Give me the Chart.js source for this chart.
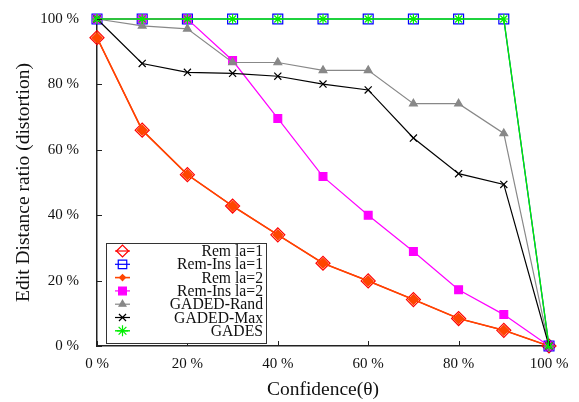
<!DOCTYPE html>
<html>
<head>
<meta charset="utf-8">
<script src="https://cdn.jsdelivr.net/npm/chart.js@4/dist/chart.umd.min.js"></script>
<style>
  html, body { margin: 0; padding: 0; background: #fff; }
  #wrap { width: 579px; height: 402px; }
</style>
</head>
<body>
<div id="wrap"><canvas id="c" width="579" height="402"></canvas></div>
<script>
// confidence levels (x, in %)
const confidence = [0, 10, 20, 30, 40, 50, 60, 70, 80, 90, 100];
const xTicks = [0, 20, 40, 60, 80, 100];
const yTicks = [0, 20, 40, 60, 80, 100];

// distortion values (%)
const remLa1 = [94.3, 66, 52.4, 42.8, 34, 25.3, 19.9, 14.2, 8.4, 4.8, 0];
const remInsLa1 = [100, 100, 100, 100, 100, 100, 100, 100, 100, 100, 0];
const remLa2 = [94.3, 66, 52.4, 42.8, 34, 25.3, 19.9, 14.2, 8.4, 4.8, 0];
const remInsLa2 = [100, 100, 100, 87.3, 69.6, 51.8, 40, 28.9, 17.2, 9.6, 0];
const gadedRand = [100, 97.9, 97, 86.7, 86.7, 84.3, 84.3, 74.1, 74.1, 65, 0];
const gadedMax = [100, 86.4, 83.7, 83.4, 82.5, 80.1, 78.3, 63.6, 52.7, 49.4, 0];
const gades = [100, 100, 100, 100, 100, 100, 100, 100, 100, 100, 0];

const pts = arr => arr.map((v, i) => ({ x: confidence[i], y: v }));

function series(label, data, color, style, opts) {
    return Object.assign({
        label: label,
        data: pts(data),
        borderColor: color,
        backgroundColor: color,
        pointBorderColor: color,
        pointBackgroundColor: color,
        pointStyle: style,
        pointRadius: 6,
        pointBorderWidth: 1.2,
        borderWidth: 1.2,
        tension: 0
    }, opts || {});
}

const datasets = [
    series('Rem la=1', remLa1, '#ff0000', 'rectRot', { pointBackgroundColor: 'rgba(255,255,255,0)', pointRadius: 7, order: 7, legendRadius: 6 }),
    series('Rem-Ins la=1', remInsLa1, '#0000ff', 'rect', { pointBackgroundColor: 'rgba(255,255,255,0)', pointRadius: 7, order: 6, legendRadius: 6 }),
    series('Rem la=2', remLa2, '#ff4500', 'rectRot', { pointRadius: 5, borderWidth: 1.6, order: 5, legendRadius: 3 }),
    series('Rem-Ins la=2', remInsLa2, '#ff00ff', 'rect', { pointRadius: 5.5, order: 4, legendRadius: 5.5 }),
    series('GADED-Rand', gadedRand, '#888888', 'triangle', { pointRadius: 4.5, order: 3, legendRadius: 4 }),
    series('GADED-Max', gadedMax, '#000000', 'crossRot', { pointRadius: 5, order: 2, legendRadius: 5 }),
    series('GADES', gades, '#00ee00', 'star', { pointRadius: 5, borderWidth: 1.4, order: 1, legendRadius: 5.5 })
];

const serif = "'Liberation Serif', 'DejaVu Serif', serif";

// inward tick marks, like the original
const innerTicks = {
    id: 'innerTicks',
    afterDraw(chart) {
        const ctx = chart.ctx;
        const xs = chart.scales.x, ys = chart.scales.y;
        const a = chart.chartArea;
        ctx.save();
        ctx.strokeStyle = '#222';
        ctx.lineWidth = 1;
        xTicks.forEach(v => {
            const px = Math.round(xs.getPixelForValue(v)) + 0.5;
            ctx.beginPath(); ctx.moveTo(px, a.bottom); ctx.lineTo(px, a.bottom - 5); ctx.stroke();
        });
        yTicks.forEach(v => {
            const py = Math.round(ys.getPixelForValue(v)) + 0.5;
            ctx.beginPath(); ctx.moveTo(a.left, py); ctx.lineTo(a.left + 5, py); ctx.stroke();
        });
        ctx.restore();
    }
};

// legend box inside the plot, text right-aligned like gnuplot
const boxLegend = {
    id: 'boxLegend',
    afterDraw(chart) {
        const ctx = chart.ctx;
        const left = 106, top = 243, right = 266, bottom = 343;
        ctx.save();
        ctx.fillStyle = '#fff';
        ctx.fillRect(left, top, right - left, bottom - top);
        ctx.strokeStyle = '#333';
        ctx.lineWidth = 1;
        ctx.strokeRect(left + 0.5, top + 0.5, right - left, bottom - top);
        ctx.font = '15.7px ' + serif;
        ctx.textAlign = 'right';
        ctx.textBaseline = 'middle';
        chart.data.datasets.forEach((ds, i) => {
            const y = 251 + i * 13.3;
            ctx.strokeStyle = ds.borderColor;
            ctx.lineWidth = ds.borderWidth;
            ctx.beginPath(); ctx.moveTo(115, y); ctx.lineTo(130, y); ctx.stroke();
            ctx.fillStyle = ds.pointBackgroundColor;
            ctx.strokeStyle = ds.pointBorderColor;
            ctx.lineWidth = ds.pointBorderWidth;
            Chart.helpers.drawPoint(ctx, {
                pointStyle: ds.pointStyle,
                radius: ds.legendRadius,
                borderWidth: ds.pointBorderWidth
            }, 122.5, y);
            ctx.fillStyle = '#111';
            ctx.fillText(ds.label, 263, y + 1);
        });
        ctx.restore();
    }
};

new Chart(document.getElementById('c'), {
    type: 'line',
    data: { datasets: datasets },
    options: {
        responsive: false,
        animation: false,
        clip: false,
        layout: { padding: { top: 14, right: 30, left: 12, bottom: 0 } },
        plugins: {
            legend: { display: false },
            tooltip: { enabled: false }
        },
        scales: {
            x: {
                type: 'linear',
                min: 0,
                max: 100,
                afterFit(s) { s.height = 56; },
                afterBuildTicks(s) { s.ticks = xTicks.map(v => ({ value: v })); },
                grid: { display: false },
                border: { display: true, color: '#222', width: 1.5 },
                ticks: {
                    color: '#111',
                    font: { family: serif, size: 15 },
                    padding: 1,
                    maxRotation: 0,
                    callback: v => v + ' %'
                },
                title: {
                    display: true,
                    text: 'Confidence(θ)',
                    color: '#111',
                    font: { family: serif, size: 19.5 },
                    padding: { top: 0, bottom: 0 }
                }
            },
            y: {
                min: 0,
                max: 100,
                afterFit(s) { s.width = 85; },
                afterBuildTicks(s) { s.ticks = yTicks.map(v => ({ value: v })); },
                grid: { display: false },
                border: { display: true, color: '#222', width: 1.5 },
                ticks: {
                    color: '#111',
                    font: { family: serif, size: 15 },
                    padding: 10,
                    callback: v => v + ' %'
                },
                title: {
                    display: true,
                    text: 'Edit Distance ratio (distortion)',
                    color: '#111',
                    font: { family: serif, size: 19.5 },
                    padding: { top: 0, bottom: 4 }
                }
            }
        }
    },
    plugins: [innerTicks, boxLegend]
});
</script>
</body>
</html>
